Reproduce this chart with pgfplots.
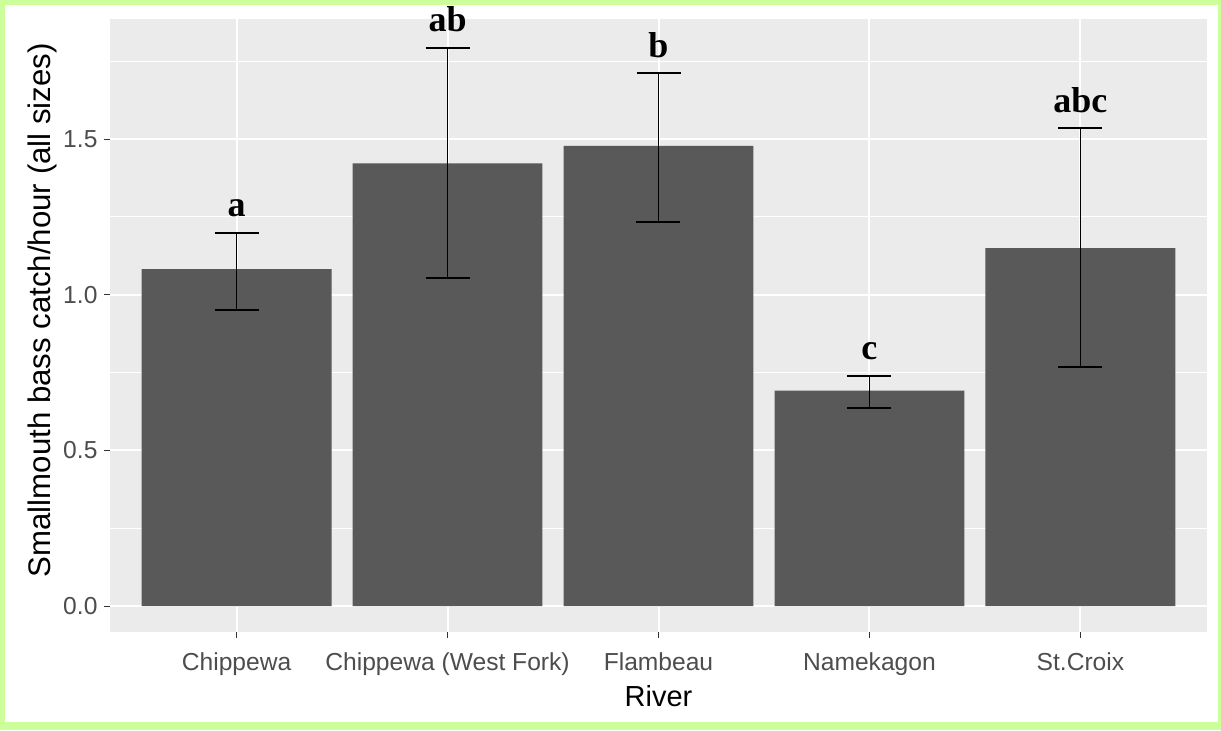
\documentclass[border=0pt]{standalone}
\usepackage{pgfplots}
\pgfplotsset{compat=1.18}
\usepackage{pgfplotstable}
\usepackage{fontspec}
\setmainfont{Liberation Sans}
\newfontfamily\letterfont{Liberation Serif}

\definecolor{panelbg}{HTML}{EBEBEB}
\definecolor{barfill}{HTML}{595959}
\definecolor{ticktext}{HTML}{4D4D4D}
\definecolor{frame}{HTML}{CCFF99}

% mean catch rate and error bar ends
\pgfplotstableread{
x val eplus eminus
1 1.082 0.118 0.131
2 1.422 0.372 0.367
3 1.478 0.233 0.243
4 0.692 0.048 0.057
5 1.150 0.385 0.383
}\bars

% significance letters, placed at the upper cap
\pgfplotstableread{
x top lab
1 1.200 a
2 1.794 ab
3 1.711 b
4 0.740 c
5 1.535 abc
}\letters

\begin{document}
\begin{tikzpicture}
\path[use as bounding box] (0,0) rectangle (610.5pt,365pt);
\fill[frame] (0,0) rectangle (610.5pt,365pt);
\fill[white] (2.5pt,4pt) rectangle (609pt,362.5pt);
\begin{axis}[
    at={(55pt,49pt)}, anchor=south west,
    scale only axis, width=548.5pt, height=306.5pt,
    xmin=0.4, xmax=5.6,
    ymin=-0.0835, ymax=1.886,
    clip=false,
    axis background/.style={fill=panelbg},
    axis line style={draw=none},
    xtick={1,2,3,4,5},
    xticklabels={Chippewa, Chippewa (West Fork), Flambeau, Namekagon, St.Croix},
    ytick={0,0.5,1,1.5},
    yticklabels={0.0,0.5,1.0,1.5},
    minor ytick={0.25,0.75,1.25,1.75},
    xmajorgrids, ymajorgrids, yminorgrids,
    major grid style={white, line width=1pt},
    minor grid style={white, line width=0.5pt},
    tick align=outside, xtick pos=left, ytick pos=left,
    major tick length=2.75pt, minor tick length=0pt,
    tick style={black!80, line width=0.5pt},
    tick label style={font=\fontsize{12.3}{14}\selectfont, text=ticktext},
    xticklabel style={yshift=-4pt},
    xlabel style={font=\fontsize{14.5}{17}\selectfont, yshift=2pt},
    ylabel style={font=\fontsize{15.6}{18}\selectfont,
        at={(axis description cs:-0.062,0.525)}, anchor=center},
    xlabel=River,
    ylabel={Smallmouth bass catch/hour (all sizes)},
]
\addplot[ybar, bar width=0.9, fill=barfill, draw=none,
    error bars/.cd, y dir=both, y explicit,
    error bar style={black, line width=0.9pt},
    error mark options={black, rotate=90, mark size=11pt, line width=1pt}]
    table[x=x, y=val, y error plus=eplus, y error minus=eminus] \bars;
\addplot[draw=none, mark=none, nodes near coords, point meta=explicit symbolic,
    nodes near coords style={font=\letterfont\bfseries\fontsize{18}{20}\selectfont,
        text=black, anchor=base, yshift=8pt}]
    table[x=x, y=top, meta=lab] \letters;
\end{axis}
\end{tikzpicture}
\end{document}
